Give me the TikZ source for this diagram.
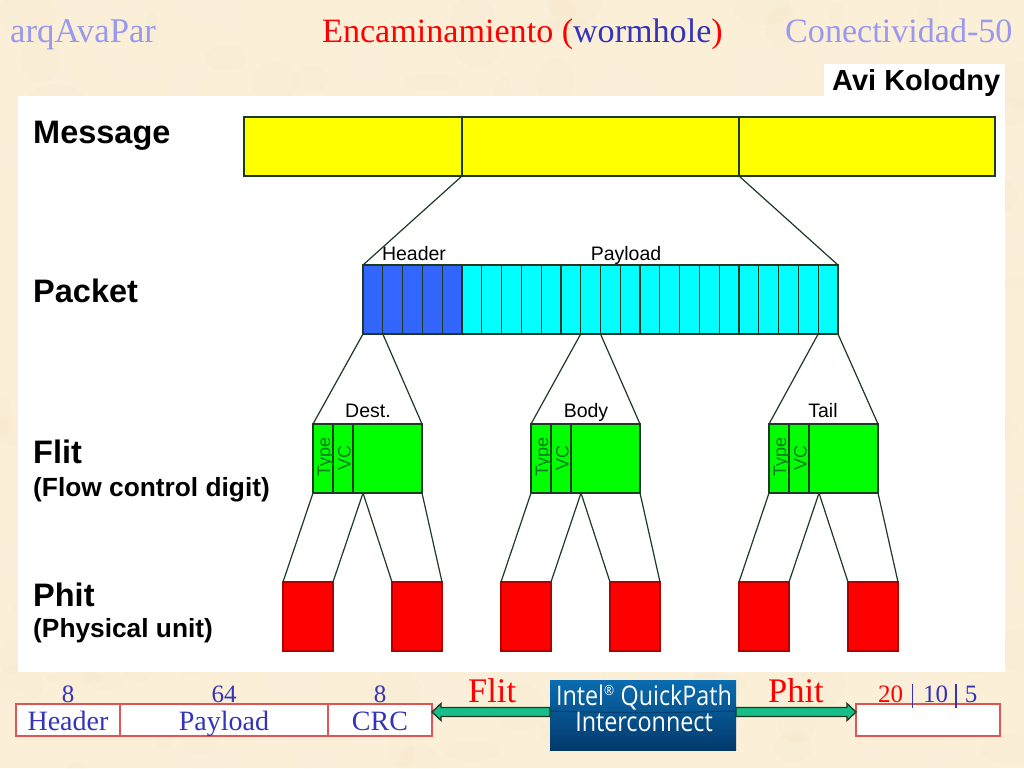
\documentclass[tikz,border=0pt]{standalone}
\usepackage{fontspec}
\setmainfont{Liberation Serif}
\newfontfamily\arialf{Liberation Sans}
\newfontfamily\intelf{Open Sans}
\usetikzlibrary{calc}
\definecolor{parch}{HTML}{FBEFD8}
\definecolor{parchA}{HTML}{FFF6E6}
\definecolor{parchB}{HTML}{F6E3C0}
\definecolor{linec}{HTML}{1C3A24}
\definecolor{hdrblue}{HTML}{3366FF}
\definecolor{pyellow}{HTML}{FFFF00}
\definecolor{pcyan}{HTML}{00FFFF}
\definecolor{pgreen}{HTML}{00FF00}
\definecolor{pred}{HTML}{FF0000}
\definecolor{titlelav}{HTML}{9999EE}
\definecolor{slideblue}{HTML}{3333BB}
\definecolor{tabred}{HTML}{DD5555}
\definecolor{arrowg}{HTML}{17BE8A}
\definecolor{typeg}{HTML}{0A7A20}
\definecolor{intelTop}{HTML}{0A6CB0}
\definecolor{intelBot}{HTML}{033A6C}
\definecolor{intelBand}{HTML}{04406F}
\newcommand{\fs}[1]{\fontsize{#1}{#1}\selectfont}
\tikzset{
  cell/.style={draw=linec,line width=1.2pt,inner sep=0pt,outer sep=0pt,anchor=north west},
  msgcell/.style={cell,fill=pyellow,minimum height=59pt},
  pktcell/.style={cell,minimum width=19.8pt,minimum height=69pt},
  flitcell/.style={cell,fill=pgreen,minimum height=69pt},
  phitcell/.style={cell,fill=pred,draw=pred!70!black,minimum width=50pt,minimum height=69pt},
  link/.style={draw=linec,line width=1.2pt},
  bigl/.style={font=\arialf\bfseries\fs{32.5},anchor=base west,inner sep=0pt},
  subl/.style={font=\arialf\bfseries\fs{26.3},anchor=base west,inner sep=0pt},
  smalll/.style={font=\arialf\fs{19.5},anchor=base,inner sep=0pt},
  fieldl/.style={font=\arialf\fs{18},text=typeg,rotate=90,anchor=base,inner sep=0pt},
  title/.style={font=\fs{34.1},anchor=base west,inner sep=0pt},
  titlewide/.style={font=\fs{34.7},anchor=base west,inner sep=0pt},
  tabcell/.style={draw=tabred,line width=1.3pt,fill=white,inner sep=0pt,outer sep=0pt,anchor=north west,minimum height=32pt,text height=21pt,text depth=0pt,font=\fs{28},text=slideblue},
  tabnum/.style={font=\fs{25},text=slideblue,anchor=base,inner sep=0pt},
  redl/.style={font=\fs{34.5},text=pred,anchor=base west,inner sep=0pt},
  garrow/.style={draw=linec,line width=1.3pt,fill=arrowg,line join=miter},
  intell/.style={font=\intelf\fs{27},text=white,anchor=base,inner sep=0pt},
}
\newcommand{\flitgroup}[2]{% name, x
  \node[flitcell,minimum width=20pt] (#1t) at (#2,424) {};
  \node[flitcell,minimum width=20pt] (#1v) at (#2+20,424) {};
  \node[flitcell,minimum width=69pt] (#1b) at (#2+40,424) {};
  \node[fieldl] (#1tl) at (#2+17,457) {Type};
  \node[fieldl] (#1vl) at (#2+37.5,458) {VC};
}
\begin{document}
\begin{tikzpicture}[x=1pt,y=-1pt]
\useasboundingbox (0,0) rectangle (1024,768);
\fill[parch] (0,0) rectangle (1024,768);
% mottled parchment
\pgfmathsetseed{7}
\foreach \i in {1,...,320}{
  \pgfmathsetmacro{\cx}{random(0,1024)}
  \pgfmathsetmacro{\cy}{random(0,768)}
  \pgfmathsetmacro{\rx}{random(8,32)}
  \pgfmathsetmacro{\ry}{random(6,24)}
  \pgfmathsetmacro{\kk}{random(0,1)}
  \ifdim\kk pt>0.5pt
    \fill[parchA,opacity=0.12] (\cx,\cy) ellipse ({\rx} and {\ry});
  \else
    \fill[parchB,opacity=0.10] (\cx,\cy) ellipse ({\rx} and {\ry});
  \fi
}
% titles
\node[titlewide,text=titlelav] (t1) at (10,43) {arqAvaPar};
\node[title,text=pred] (t2) at (322,43) {Encaminamiento (\textcolor{slideblue}{wormhole}\textcolor{pred}{)}};
\node[title,text=titlelav] (t3) at (785,43) {Conectividad-50};
% white panels
\fill[white] (18,96) rectangle (1005,672);
\fill[white] (824,64) rectangle (1005,96);
\node[font=\arialf\bfseries\fs{29},anchor=base west,inner sep=0pt] (avi) at (832,90) {Avi Kolodny};
% left labels
\node[bigl] (lmsg) at (33,143) {Message};
\node[bigl] (lpkt) at (33,302) {Packet};
\node[bigl] (lflit) at (33,463) {Flit};
\node[subl] (lflow) at (33,496) {(Flow control digit)};
\node[bigl] (lphit) at (33,606) {Phit};
\node[subl] (lphys) at (33,637) {(Physical unit)};
% message
\node[msgcell,minimum width=218pt] (m1) at (244,117) {};
\node[msgcell,minimum width=277pt] (m2) at (462,117) {};
\node[msgcell,minimum width=256pt] (m3) at (739,117) {};
% packet
\foreach \i in {1,...,24}{
  \pgfmathsetmacro{\px}{363+19.79*(\i-1)}
  \ifnum\i<6
    \node[pktcell,fill=hdrblue] (p\i) at (\px,265) {};
  \else
    \node[pktcell,fill=pcyan] (p\i) at (\px,265) {};
  \fi
}
\node[smalll] (lhdr) at (414,260) {Header};
\node[smalll] (lpay) at (626,260) {Payload};
\draw[link] (m2.south west) -- (p1.north west);
\draw[link] (m2.south east) -- (p24.north east);
% flits
\flitgroup{fa}{313}
\flitgroup{fb}{531}
\flitgroup{fc}{769}
\node[smalll] (ld) at (368,417) {Dest.};
\node[smalll] (lb) at (586,417) {Body};
\node[smalll] (lt) at (823,417) {Tail};
\draw[link] (p1.south west) -- (fat.north west);
\draw[link] (p1.south east) -- (fab.north east);
\draw[link] (p12.south west) -- (fbt.north west);
\draw[link] (p12.south east) -- (fbb.north east);
\draw[link] (p24.south west) -- (fct.north west);
\draw[link] (p24.south east) -- (fcb.north east);
% phits
\node[phitcell] (h1) at (283,582) {};
\node[phitcell] (h2) at (392,582) {};
\node[phitcell] (h3) at (501,582) {};
\node[phitcell] (h4) at (610,582) {};
\node[phitcell] (h5) at (739,582) {};
\node[phitcell] (h6) at (848,582) {};
\coordinate (ca) at (363,493);
\coordinate (cb) at (581,493);
\coordinate (cc) at (819,493);
\draw[link] (fat.south west) -- (h1.north west);
\draw[link] (ca) -- (h1.north east);
\draw[link] (ca) -- (h2.north west);
\draw[link] (fab.south east) -- (h2.north east);
\draw[link] (fbt.south west) -- (h3.north west);
\draw[link] (cb) -- (h3.north east);
\draw[link] (cb) -- (h4.north west);
\draw[link] (fbb.south east) -- (h4.north east);
\draw[link] (fct.south west) -- (h5.north west);
\draw[link] (cc) -- (h5.north east);
\draw[link] (cc) -- (h6.north west);
\draw[link] (fcb.south east) -- (h6.north east);
% bottom table
\node[tabcell,minimum width=104pt] (th) at (16,704) {Header};
\node[tabcell,minimum width=208pt] (tp) at (120,704) {Payload};
\node[tabcell,minimum width=104pt] (tc) at (328,704) {CRC};
\node[tabcell,minimum width=144pt] (tr) at (856,704) {};
\node[tabnum] (n1) at (68,702) {8};
\node[tabnum] (n2) at (224,702) {64};
\node[tabnum] (n3) at (380,702) {8};
\node[redl] (flit) at (468,702) {Flit};
\node[redl] (phit) at (768,702) {Phit};
\node[tabnum,text=pred] (w20) at (890.5,702) {20};
\node[tabnum] (w10) at (935.5,702) {10};
\node[tabnum] (w5) at (971,702) {5};
\coordinate (b1) at (912.5,684);
\coordinate (b2) at (956,684);
\draw[slideblue,line width=1.7pt] (b1) -- ++(0,24);
\draw[slideblue,line width=1.7pt] (b2) -- ++(0,24);
% intel logo
\node[anchor=north west,inner sep=0pt,outer sep=0pt,minimum width=186pt,minimum height=70pt,
  top color=intelTop,bottom color=intelBot] (intel) at (550,680) {};
\draw[intelBand,line width=1pt] (intel.west) ++(0,-4) .. controls ++(60,2) and ++(-60,2) .. ($(intel.east)+(0,-4)$);
\node[intell] (i1) at (644,705) {\scalebox{0.864}[1]{Intel\textsuperscript{\fs{14}®} QuickPath}};
\node[intell] (i2) at (644,731.5) {\scalebox{0.864}[1]{Interconnect}};
% arrows
\draw[garrow] ($(tc.east)+(0,-8)$) coordinate (la)
  -- ++(9,-8.5) -- ++(0,4) -- ($(intel.west)+(0,-7.5)$) -- ($(intel.west)+(0,1.5)$) -- ($(la)+(9,4.5)$) -- ++(0,4) -- cycle;
\draw[garrow] ($(tr.west)+(0,-8)$) coordinate (ra)
  -- ++(-9,-8.5) -- ++(0,4) -- ($(intel.east)+(0,-7.5)$) -- ($(intel.east)+(0,1.5)$) -- ($(ra)+(-9,4.5)$) -- ++(0,4) -- cycle;
\end{tikzpicture}
\end{document}
